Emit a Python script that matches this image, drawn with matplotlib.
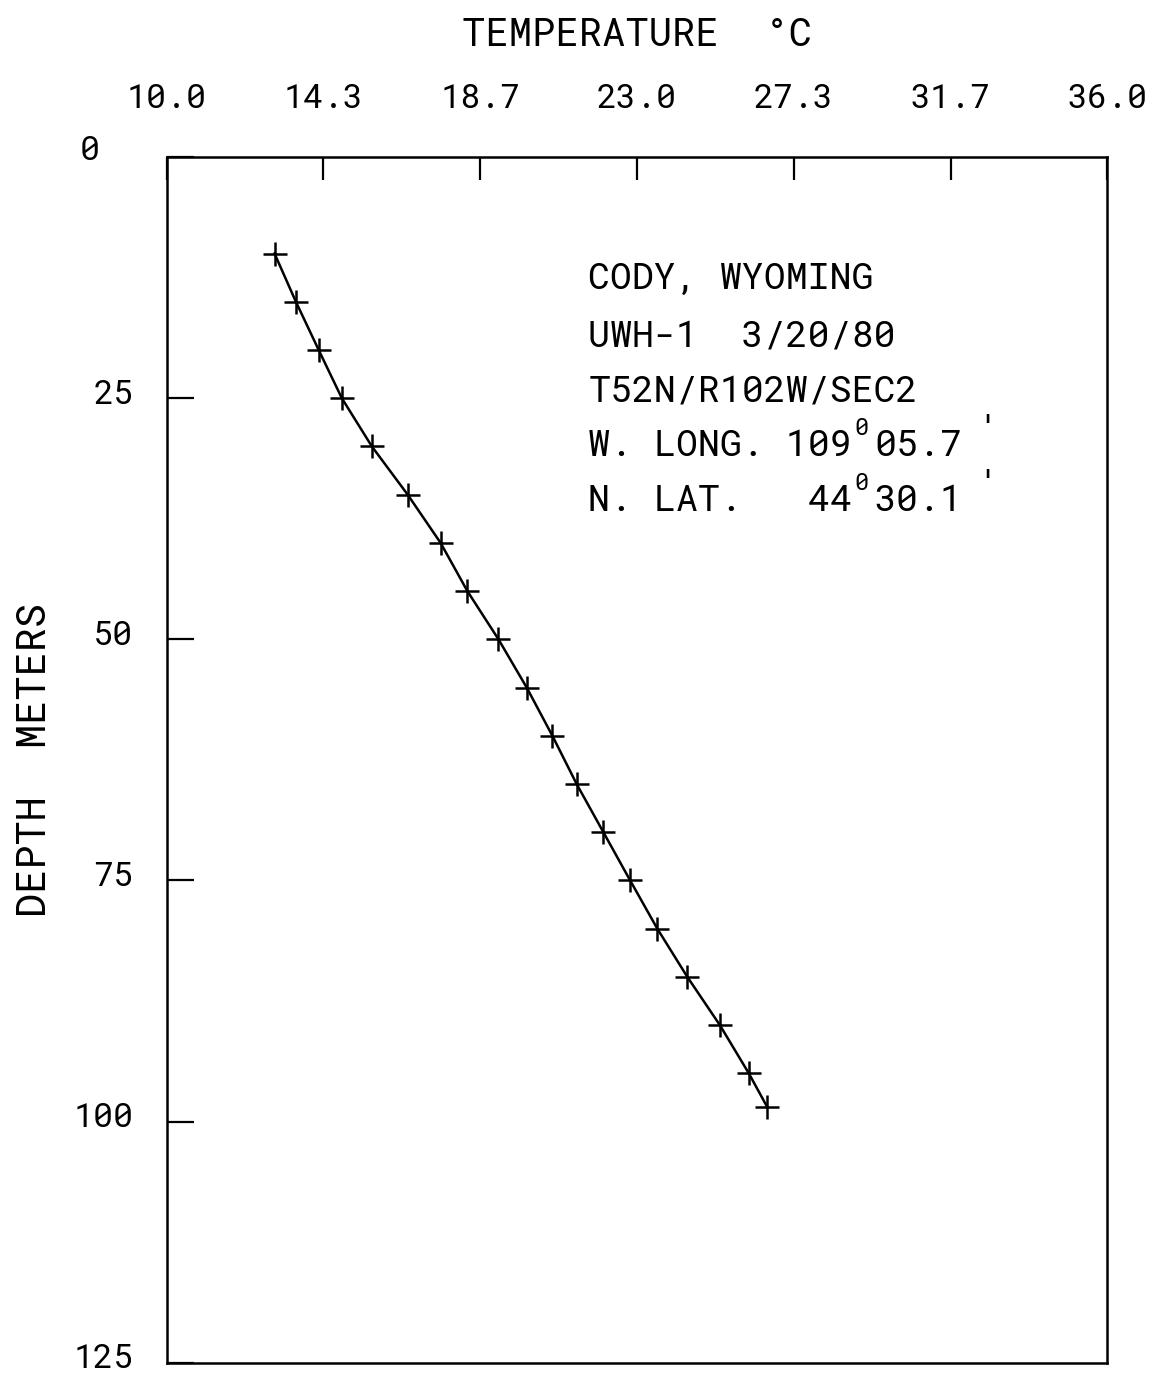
import matplotlib
matplotlib.use("Agg")
import matplotlib.pyplot as plt
from matplotlib.transforms import offset_copy, ScaledTranslation, blended_transform_factory

# ---- data ----
depth_m = [10, 15, 20, 25, 30, 35, 40, 45, 50, 55, 60, 65, 70, 75, 80, 85, 90, 95, 98.5]
temp_c = [12.98, 13.57, 14.20, 14.84, 15.67, 16.66, 17.57, 18.31, 19.17, 19.95,
          20.66, 21.33, 22.07, 22.81, 23.56, 24.39, 25.29, 26.09, 26.60]

xtick_values = [10.0, 14.333, 18.667, 23.0, 27.333, 31.667, 36.0]
xtick_labels = ["10.0", "14.3", "18.7", "23.0", "27.3", "31.7", "36.0"]
ytick_values = [0, 25, 50, 75, 100, 125]
ytick_labels = ["", "25", "50", "75", "100", "125"]
zero_label = "0"

info_lines = ["CODY, WYOMING", "UWH-1  3/20/80", "T52N/R102W/SEC2"]
coord_lines = [("W. LONG. 109", "05.7"), ("N. LAT.   44", "30.1")]

MONO = ["Roboto Mono", "DejaVu Sans Mono"]
WT = "light"

fig = plt.figure(figsize=(11.53, 13.74), dpi=100)
ax = fig.add_axes([0.1446, 0.00822, 0.9604 - 0.1446, 0.8857 - 0.00822])

ax.plot(temp_c, depth_m, color="black", lw=1.8, marker="+", ms=17, mew=1.8)

ax.set_xlim(10, 36)
ax.set_ylim(125, 0)

for s in ax.spines.values():
    s.set_linewidth(1.8)

ax.xaxis.tick_top()
ax.set_xticks(xtick_values)
ax.set_xticklabels(xtick_labels, family=MONO, fontsize=24, fontweight=WT)
ax.tick_params(axis="x", which="both", direction="in", length=16.5, width=1.6,
               pad=30.5, top=True, bottom=False)

ax.set_yticks(ytick_values)
ax.set_yticklabels(ytick_labels, family=MONO, fontsize=24, fontweight=WT,
                   va="center_baseline")
ax.tick_params(axis="y", which="both", direction="in", length=19.5, width=1.6,
               pad=24, left=True, right=False)
for lab in ax.get_yticklabels():
    lab.set_transform(lab.get_transform() + ScaledTranslation(0, 7 / 100, fig.dpi_scale_trans))

# the "0" depth label sits further left and higher in the reference
tr0 = blended_transform_factory(ax.transAxes, ax.transData) + \
    ScaledTranslation(0, 10 / 100, fig.dpi_scale_trans)
ax.text(-0.0815, 0, zero_label, transform=tr0, family=MONO, fontsize=24,
        fontweight=WT, ha="center", va="center_baseline")

ax.xaxis.set_label_position("top")
ax.set_xlabel("TEMPERATURE  °C", family=MONO, fontsize=28, fontweight=WT)
ax.xaxis.set_label_coords(0.5, 1.092)
ax.set_ylabel("DEPTH  METERS", family=MONO, fontsize=29, fontweight=WT)
ax.yaxis.set_label_coords(-0.120, 0.5)

# annotation block
fs = 26.4
pitch_pt = 0.60 * fs
x0 = 21.65   # data x of left edge of text block
baselines = [13.7, 19.6, 25.3, 31.0, 36.7]
for line, yb in zip(info_lines, baselines[:3]):
    ax.text(x0, yb, line, family=MONO, fontsize=fs, fontweight=WT,
            ha="left", va="baseline")
for (head, tail), yb in zip(coord_lines, baselines[3:]):
    ax.text(x0, yb, head, family=MONO, fontsize=fs, fontweight=WT,
            ha="left", va="baseline")
    tr_tail = offset_copy(ax.transData, fig=fig, x=13 * pitch_pt, y=0, units="points")
    ax.text(x0, yb, tail, transform=tr_tail, family=MONO, fontsize=fs,
            fontweight=WT, ha="left", va="baseline")
    tr_deg = offset_copy(ax.transData, fig=fig, x=12.4 * pitch_pt, y=15, units="points")
    ax.text(x0, yb, "0", transform=tr_deg, family=MONO, fontsize=17,
            fontweight=WT, ha="center", va="baseline")
    tr_pr = offset_copy(ax.transData, fig=fig, x=18.2 * pitch_pt, y=10, units="points")
    ax.text(x0, yb, "'", transform=tr_pr, family=MONO, fontsize=26,
            fontweight="normal", ha="center", va="baseline")

fig.savefig("out.png", dpi=100)
